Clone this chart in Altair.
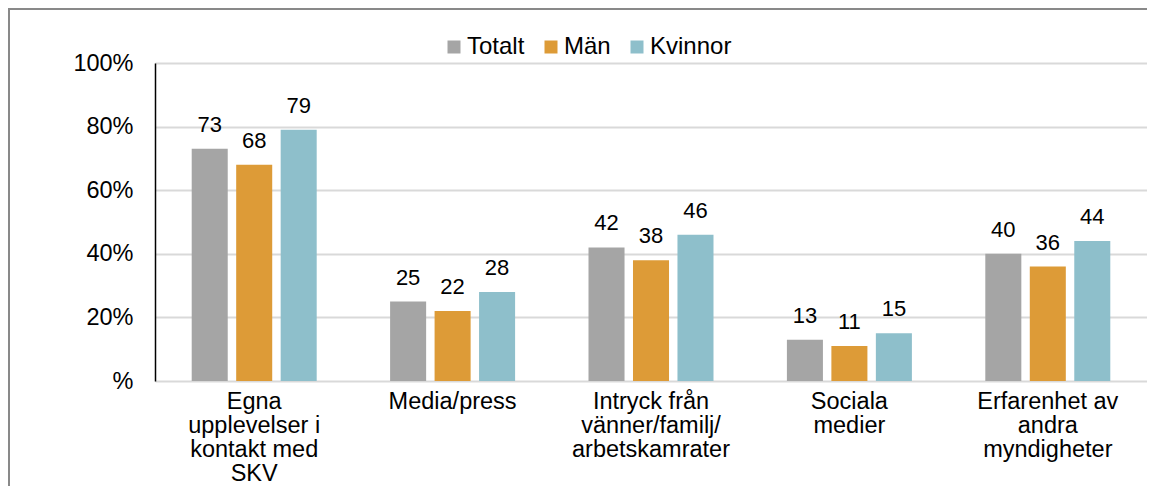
import altair as alt
import pandas as pd

categories = [
    "Egna\nupplevelser i\nkontakt med\nSKV",
    "Media/press",
    "Intryck från\nvänner/familj/\narbetskamrater",
    "Sociala\nmedier",
    "Erfarenhet av\nandra\nmyndigheter",
]
series = ["Totalt", "Män", "Kvinnor"]
totalt = [73, 25, 42, 13, 40]
man = [68, 22, 38, 11, 36]
kvinnor = [79, 28, 46, 15, 44]
colors = ["#a5a5a5", "#dd9b37", "#8ebfcb"]
y_ticks = [0, 20, 40, 60, 80, 100]

rows = []
for s, vals in zip(series, [totalt, man, kvinnor]):
    for c, v in zip(categories, vals):
        rows.append({"kategori": c, "grupp": s, "varde": v})
df = pd.DataFrame(rows)

FONT = "Liberation Sans"

x_enc = alt.X(
    "kategori:N",
    sort=categories,
    scale=alt.Scale(paddingInner=0.37, paddingOuter=0.185),
    axis=alt.Axis(
        title=None,
        labelAngle=0,
        labelExpr="split(datum.label, '\\n')",
        labelFontSize=23.5,
        labelLineHeight=24,
        labelBaseline="top",
        labelAlign="center",
        labelPadding=8,
        labelColor="#000000",
        labelFont=FONT,
        ticks=False,
        domain=False,
        grid=False,
    ),
)
xoff = alt.XOffset("grupp:N", sort=series, scale=alt.Scale(domain=series, paddingInner=0.19))
y_enc = alt.Y(
    "varde:Q",
    scale=alt.Scale(domain=[0, 100]),
    axis=alt.Axis(
        title=None,
        values=y_ticks,
        labelExpr="datum.value == 0 ? '%' : datum.value + '%'",
        labelFontSize=23.5,
        labelFont=FONT,
        labelColor="#000000",
        labelPadding=22,
        ticks=False,
        domain=True,
        domainColor="#000000",
        domainWidth=1.5,
        grid=True,
        gridColor="#d9d9d9",
        gridWidth=2,
    ),
)

bars = alt.Chart(df).mark_bar().encode(
    x=x_enc,
    xOffset=xoff,
    y=y_enc,
    color=alt.Color(
        "grupp:N",
        scale=alt.Scale(domain=series, range=colors),
        legend=alt.Legend(
            title=None,
            orient="none",
            direction="horizontal",
            legendX=287,
            legendY=-28,
            symbolType="square",
            symbolSize=169,
            symbolStrokeWidth=0,
            symbolOpacity=1,
            labelFontSize=24,
            labelFont=FONT,
            labelColor="#000000",
            labelOffset=1,
            columnPadding=14,
        ),
    ),
)

labels = alt.Chart(df).mark_text(
    baseline="alphabetic", dy=-17, fontSize=22, font=FONT, color="#000000"
).encode(
    x=alt.X("kategori:N", sort=categories),
    xOffset=alt.XOffset("grupp:N", sort=series),
    y="varde:Q",
    text="varde:Q",
)

frame_data = alt.Data(values=[{"a": 1}])
frame_top = alt.Chart(frame_data).mark_rule(stroke="#898989", strokeWidth=2).encode(
    x=alt.value(-147), x2=alt.value(1100), y=alt.value(-54)
)
frame_left = alt.Chart(frame_data).mark_rule(stroke="#898989", strokeWidth=2).encode(
    x=alt.value(-146), y=alt.value(-55), y2=alt.value(500)
)

chart = (
    alt.layer(frame_top, frame_left, bars, labels)
    .properties(
        width=992,
        height=318,
        autosize=alt.AutoSizeParams(type="none"),
        padding={"left": 147, "top": 55, "right": 0, "bottom": 105},
    )
    .configure_view(stroke=None)
)

chart.save("out.html", embed_options={"renderer": "svg", "actions": False})
